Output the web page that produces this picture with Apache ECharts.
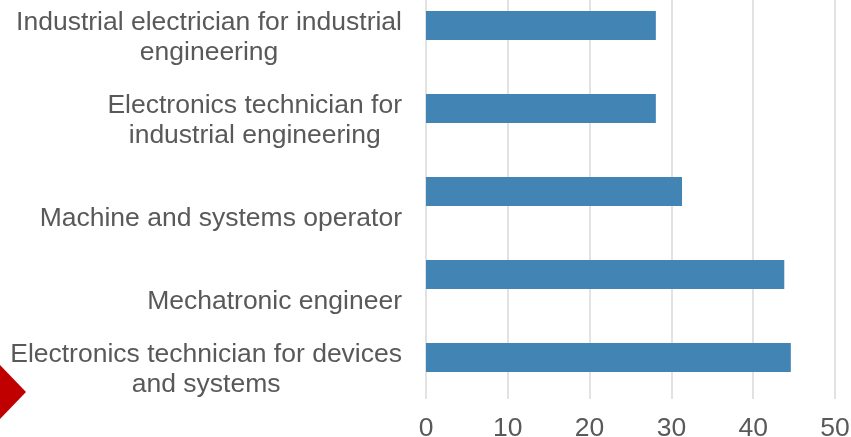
<!DOCTYPE html>
<html>
<head>
<meta charset="utf-8">
<script src="https://cdn.jsdelivr.net/npm/echarts@6/dist/echarts.min.js"></script>
<style>html,body{margin:0;padding:0;background:#fff;}#c{width:851px;height:437px;}</style>
</head>
<body>
<div id="c"></div>
<script>
// Categories listed bottom to top (ECharts category y-axis order)
var categories = [
  "Electronics technician for devices\nand systems",
  "Mechatronic engineer",
  "Machine and systems operator",
  "Electronics technician for\nindustrial engineering",
  "Industrial electrician for industrial\nengineering"
];
var values = [44.6, 43.8, 31.3, 28.1, 28.1];
var xTicks = [0, 10, 20, 30, 40, 50];

var FONT = '"Liberation Sans", Arial, sans-serif';
var chart = echarts.init(document.getElementById('c'), null, {renderer: 'canvas'});
chart.setOption({
  animation: false,
  backgroundColor: '#ffffff',
  grid: {left: 426, right: 16, top: -16, bottom: 38, containLabel: false, outerBoundsMode: 'none'},
  xAxis: {
    type: 'value',
    min: xTicks[0],
    max: xTicks[xTicks.length - 1],
    interval: xTicks[1] - xTicks[0],
    axisLine: {show: false},
    axisTick: {show: false},
    splitLine: {show: true, lineStyle: {color: '#d9d9d9', width: 1.5}},
    axisLabel: {color: '#595959', fontSize: 26.5, fontFamily: FONT, margin: 16}
  },
  yAxis: {
    type: 'category',
    data: categories,
    axisLine: {show: false},
    axisTick: {show: false},
    axisLabel: {
      margin: 24,
      align: 'right',
      formatter: function (v) {
        var lines = v.split('\n');
        var s = lines.length === 1 ? '{sp1| }\n' : '{sp2| }\n';
        return s + lines.map(function (l) { return '{c|' + l + '}'; }).join('\n');
      },
      rich: {
        c: {align: 'center', fontSize: 26.5, lineHeight: 30, color: '#595959', fontFamily: FONT},
        sp1: {fontSize: 1, lineHeight: 54},
        sp2: {fontSize: 1, lineHeight: 25}
      }
    }
  },
  series: [{
    type: 'bar',
    data: values,
    barWidth: 29,
    itemStyle: {color: '#4285B4'}
  }],
  graphic: [{
    type: 'polygon',
    shape: {points: [[0, 365], [26, 392], [0, 419]]},
    style: {fill: '#c00000'}
  }]
});
</script>
</body>
</html>
